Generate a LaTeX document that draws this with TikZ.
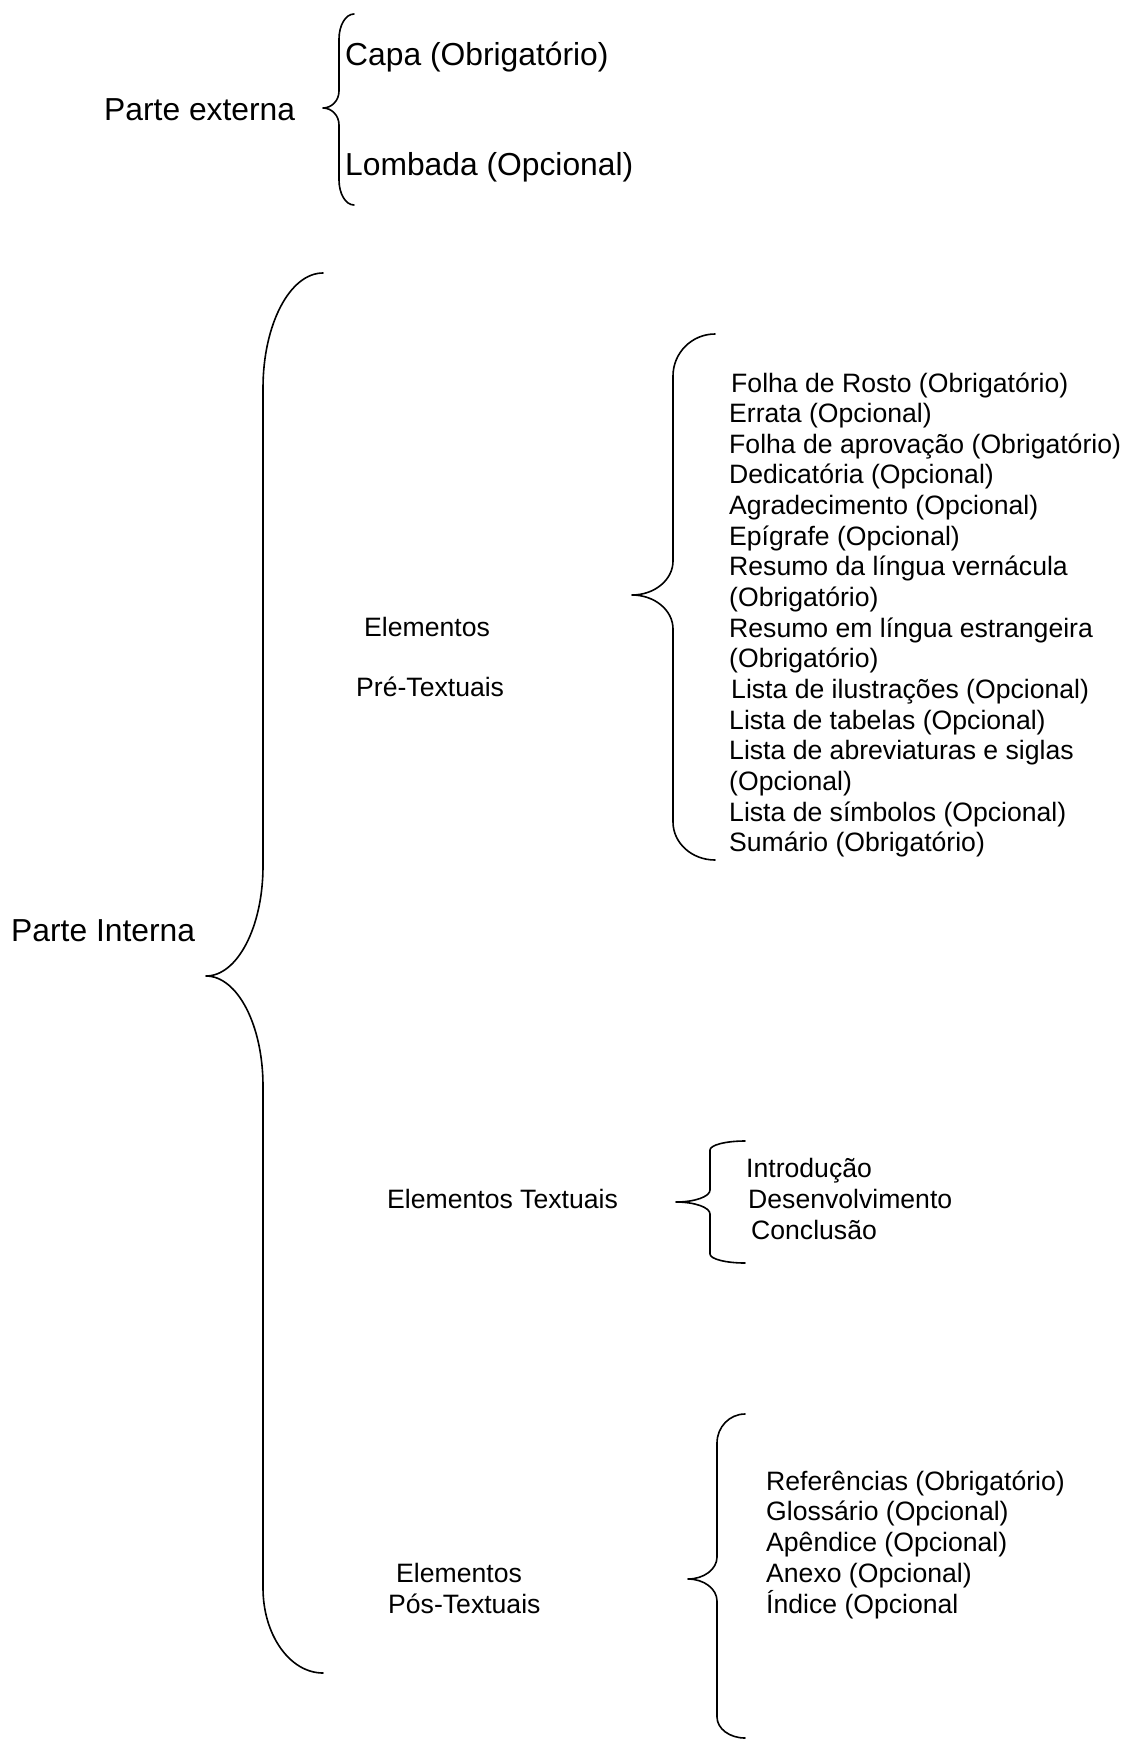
\documentclass[tikz,border=0pt]{standalone}
\usepackage{fontspec}
\setmainfont{Liberation Sans}
\tikzset{
  big/.style={font=\fontsize{31.8}{36}\selectfont, anchor=base west, inner sep=0pt},
  small/.style={font=\fontsize{26.6}{30}\selectfont, anchor=base west, inner sep=0pt},
  bracestroke/.style={line width=1.6pt, line cap=round, line join=round},
}
% #1 end x, #2 top y, #3 stem x, #4 tip x, #5 tip y, #6 bottom y, #7 top curve h, #8 tip curve h, #9 bottom curve h
\newcommand\drawbrace[9]{%
  \draw[bracestroke] (#1,#2)
    .. controls ({#1-0.552*(#1-#3)},#2) and (#3,{#2+0.448*#7}) .. (#3,{#2+#7})
    -- (#3,{#5-#8})
    .. controls (#3,{#5-0.448*#8}) and ({#4+0.552*(#3-#4)},#5) .. (#4,#5)
    .. controls ({#4+0.552*(#3-#4)},#5) and (#3,{#5+0.448*#8}) .. (#3,{#5+#8})
    -- (#3,{#6-#9})
    .. controls (#3,{#6-0.448*#9}) and ({#1-0.552*(#1-#3)},#6) .. (#1,#6);
}
\begin{document}
\begin{tikzpicture}[x=1pt,y=-1pt]
\useasboundingbox (0,0) rectangle (1123,1739);

% Parte externa
\node[big] (ext) at (104,121) {Parte externa};
\drawbrace{354}{14}{339}{323}{108}{205}{25}{17}{25}
\coordinate (exttip) at (323,108);
\node[big] (capa) at (345,66) {Capa (Obrigatório)};
\node[big] (lomb) at (345,176) {Lombada (Opcional)};

% Parte interna
\node[big] (int) at (11,941) {Parte Interna};
\drawbrace{323}{273}{263}{206}{976}{1673}{115}{110}{85}
\coordinate (inttip) at (206,976);

% Pre-textuais
\node[small] (pre) at (364,636) {Elementos};
\node[small] (pre2) at (356,696) {Pré-Textuais};
\drawbrace{715}{334}{673}{632}{595}{860}{42}{34}{38}
\coordinate (pretip) at (632,595);
\node[small] (p1)  at (731,{392+0*30.65})  {Folha de Rosto (Obrigatório)};
\node[small] (p2)  at (729,{392+1*30.65})  {Errata (Opcional)};
\node[small] (p3)  at (729,{392+2*30.65})  {Folha de aprovação (Obrigatório)};
\node[small] (p4)  at (729,{392+3*30.65})  {Dedicatória (Opcional)};
\node[small] (p5)  at (729,{392+4*30.65})  {Agradecimento (Opcional)};
\node[small] (p6)  at (729,{392+5*30.65})  {Epígrafe (Opcional)};
\node[small] (p7)  at (729,{392+6*30.65})  {Resumo da língua vernácula};
\node[small] (p8)  at (729,{392+7*30.65})  {(Obrigatório)};
\node[small] (p9)  at (729,{392+8*30.65})  {Resumo em língua estrangeira};
\node[small] (p10) at (729,{392+9*30.65})  {(Obrigatório)};
\node[small] (p11) at (731,{392+10*30.65}) {Lista de ilustrações (Opcional)};
\node[small] (p12) at (729,{392+11*30.65}) {Lista de tabelas (Opcional)};
\node[small] (p13) at (729,{392+12*30.65}) {Lista de abreviaturas e siglas};
\node[small] (p14) at (729,{392+13*30.65}) {(Opcional)};
\node[small] (p15) at (729,{392+14*30.65}) {Lista de símbolos (Opcional)};
\node[small] (p16) at (729,{392+15*30.65}) {Sumário (Obrigatório)};

% Textuais
\node[small] (txt) at (387,1208) {Elementos Textuais};
\drawbrace{745}{1141}{710}{676}{1202}{1263}{9}{12}{9}
\coordinate (txttip) at (676,1202);
\node[small] (t1) at (746,1177) {Introdução};
\node[small] (t2) at (748,1208) {Desenvolvimento};
\node[small] (t3) at (751,1239) {Conclusão};

% Pos-textuais
\node[small] (pos) at (396,1582) {Elementos};
\node[small] (pos2) at (388,1613) {Pós-Textuais};
\drawbrace{745}{1414}{717}{688}{1579}{1738}{29}{22}{21}
\coordinate (postip) at (688,1579);
\node[small] (q1) at (766,{1490+0*30.8}) {Referências (Obrigatório)};
\node[small] (q2) at (766,{1490+1*30.8}) {Glossário (Opcional)};
\node[small] (q3) at (766,{1490+2*30.8}) {Apêndice (Opcional)};
\node[small] (q4) at (766,{1490+3*30.8}) {Anexo (Opcional)};
\node[small] (q5) at (766,{1490+4*30.8}) {Índice (Opcional};
\end{tikzpicture}
\end{document}
